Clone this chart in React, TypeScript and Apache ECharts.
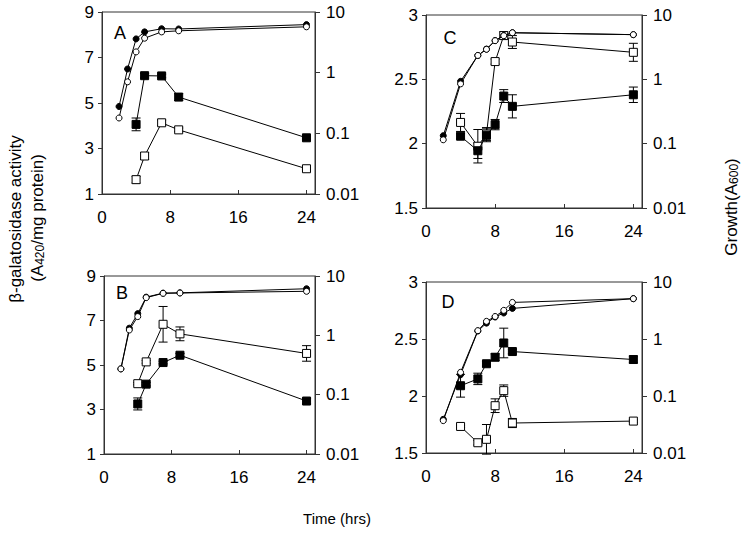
import React, { useEffect, useRef } from "react";
import * as echarts from "echarts";

// ---------- data ----------
const xTicks = [0, 8, 16, 24];

// Panel A
const A_tGrowth = [2, 3, 4, 5, 7, 9, 24];
const A_growthFilled = [0.277, 1.15, 3.6, 4.7, 5.3, 5.25, 6.2];
const A_growthOpen = [0.179, 0.706, 2.2, 3.7, 4.7, 4.9, 5.7];
const A_tAct = [4, 5, 7, 9, 24];
const A_actFilled = [4.06, 6.2, 6.19, 5.26, 3.47];
const A_errFilled = [0.28, 0.1, 0.08, 0.15, 0.06];
const A_actOpen = [1.63, 2.67, 4.13, 3.82, 2.11];
const A_errOpen = [0.15, 0.15, 0.12, 0.08, 0.04];

// Panel B
const B_tGrowth = [2, 3, 4, 5, 7, 9, 24];
const B_growthFilled = [0.272, 1.32, 2.32, 4.4, 5.15, 5.2, 6.1];
const B_growthOpen = [0.272, 1.23, 2.07, 4.32, 5.1, 5.17, 5.52];
const B_tAct = [4, 5, 7, 9, 24];
const B_actFilled = [3.25, 4.14, 5.11, 5.44, 3.38];
const B_errFilled = [0.27, 0.08, 0.06, 0.08, 0.12];
const B_actOpen = [4.16, 5.14, 6.83, 6.4, 5.52];
const B_errOpen = [0.05, 0.06, 0.8, 0.31, 0.35];

// Panel C
const C_tGrowth = [2, 4, 6, 7, 8, 9, 10, 24];
const C_growthFilled = [0.133, 0.93, 2.35, 2.95, 4.0, 4.8, 5.3, 4.95];
const C_growthOpen = [0.115, 0.85, 2.35, 2.93, 3.99, 4.77, 5.3, 4.95];
const C_tAct = [4, 6, 7, 8, 9, 10, 24];
const C_actFilled = [2.058, 1.945, 2.065, 2.148, 2.37, 2.29, 2.38];
const C_errFilled = [0.02, 0.06, 0.05, 0.04, 0.05, 0.09, 0.06];
const C_actOpen = [2.165, 1.98, 2.075, 2.638, 2.84, 2.79, 2.71];
const C_errOpen = [0.07, 0.13, 0.05, 0.02, 0.03, 0.05, 0.07];

// Panel D
const D_tGrowth = [2, 4, 6, 7, 8, 9, 10, 24];
const D_growthFilled = [0.039, 0.237, 1.38, 1.9, 2.43, 2.86, 3.44, 5.1];
const D_growthOpen = [0.037, 0.26, 1.4, 2.04, 2.48, 3.18, 4.38, 5.1];
const D_tAct = [4, 6, 7, 8, 9, 10, 24];
const D_actFilled = [2.09, 2.15, 2.283, 2.34, 2.465, 2.39, 2.32];
const D_errFilled = [0.1, 0.05, 0.02, 0.03, 0.13, 0.02, 0.03];
const D_actOpen = [1.733, 1.59, 1.62, 1.915, 2.047, 1.763, 1.78];
const D_errOpen = [0.01, 0.02, 0.13, 0.06, 0.05, 0.04, 0.01];

const leftTicksAB = [1, 3, 5, 7, 9];
const leftTicksCD = [1.5, 2, 2.5, 3];
const rightTicks = [0.01, 0.1, 1, 10];

const FONT = "'Liberation Sans', Arial, sans-serif";
const AX = "#333";

type Panel = {
  letter: string;
  grid: { left: number; top: number; width: number; height: number };
  leftMin: number; leftMax: number; leftInterval: number;
  tGrowth: number[]; gF: number[]; gO: number[];
  tAct: number[]; aF: number[]; eF: number[]; aO: number[]; eO: number[];
  letterPos: [number, number];
};

const panels: Panel[] = [
  { letter: "A", grid: { left: 102, top: 12, width: 213, height: 182 }, leftMin: leftTicksAB[0], leftMax: leftTicksAB[4], leftInterval: 2,
    tGrowth: A_tGrowth, gF: A_growthFilled, gO: A_growthOpen, tAct: A_tAct, aF: A_actFilled, eF: A_errFilled, aO: A_actOpen, eO: A_errOpen, letterPos: [120, 33] },
  { letter: "C", grid: { left: 426, top: 15, width: 216, height: 193 }, leftMin: leftTicksCD[0], leftMax: leftTicksCD[3], leftInterval: 0.5,
    tGrowth: C_tGrowth, gF: C_growthFilled, gO: C_growthOpen, tAct: C_tAct, aF: C_actFilled, eF: C_errFilled, aO: C_actOpen, eO: C_errOpen, letterPos: [450, 38] },
  { letter: "B", grid: { left: 104, top: 276, width: 211, height: 178 }, leftMin: leftTicksAB[0], leftMax: leftTicksAB[4], leftInterval: 2,
    tGrowth: B_tGrowth, gF: B_growthFilled, gO: B_growthOpen, tAct: B_tAct, aF: B_actFilled, eF: B_errFilled, aO: B_actOpen, eO: B_errOpen, letterPos: [122, 293] },
  { letter: "D", grid: { left: 426, top: 282, width: 216, height: 171 }, leftMin: leftTicksCD[0], leftMax: leftTicksCD[3], leftInterval: 0.5,
    tGrowth: D_tGrowth, gF: D_growthFilled, gO: D_growthOpen, tAct: D_tAct, aF: D_actFilled, eF: D_errFilled, aO: D_actOpen, eO: D_errOpen, letterPos: [448, 302] },
];

function fmtNum(v: number) {
  return String(Number(Number(v).toPrecision(3)));
}

function buildOption() {
  const grid: any[] = [];
  const xAxis: any[] = [];
  const yAxis: any[] = [];
  const series: any[] = [];
  const graphic: any[] = [];

  panels.forEach((p, i) => {
    grid.push({ ...p.grid, show: true, borderColor: AX, borderWidth: 1, backgroundColor: "transparent" });
    xAxis.push({
      type: "value", gridIndex: i, min: 0, max: 25, interval: 8,
      axisLine: { show: true, lineStyle: { color: AX } },
      axisTick: { show: true, inside: true, length: 4, lineStyle: { color: AX } },
      splitLine: { show: false },
      axisLabel: {
        margin: 15, color: "#000", fontSize: 17, fontFamily: FONT,
        formatter: (v: number) => (xTicks.includes(v) ? String(v) : ""),
      },
    });
    yAxis.push({
      type: "value", gridIndex: i, position: "left", min: p.leftMin, max: p.leftMax, interval: p.leftInterval,
      axisLine: { show: true, lineStyle: { color: AX } },
      axisTick: { show: true, length: 4, lineStyle: { color: AX } },
      splitLine: { show: false },
      axisLabel: { margin: 8, color: "#000", fontSize: 17, fontFamily: FONT, formatter: (v: number) => fmtNum(v) },
    });
    yAxis.push({
      type: "log", logBase: 10, gridIndex: i, position: "right", min: rightTicks[0], max: rightTicks[3],
      axisLine: { show: true, lineStyle: { color: AX } },
      axisTick: { show: true, length: 5, lineStyle: { color: AX } },
      minorTick: { show: false },
      splitLine: { show: false },
      axisLabel: { margin: 11, color: "#000", fontSize: 17, fontFamily: FONT, formatter: (v: number) => fmtNum(v) },
    });
    const yl = 2 * i;
    const yr = 2 * i + 1;

    const errData = (t: number[], a: number[], e: number[]) => t.map((x, k) => [x, a[k] - e[k], a[k] + e[k]]);
    const errSeries = (data: number[][]) => ({
      type: "custom", xAxisIndex: i, yAxisIndex: yl, silent: true, z: 2,
      encode: { x: 0, y: [1, 2] },
      data,
      renderItem: (_params: any, api: any) => {
        const x = api.value(0);
        const lo = api.coord([x, api.value(1)]);
        const hi = api.coord([x, api.value(2)]);
        const w = 4.5;
        const st = { stroke: "#000", lineWidth: 1 };
        return {
          type: "group",
          children: [
            { type: "line", shape: { x1: lo[0], y1: lo[1], x2: hi[0], y2: hi[1] }, style: st },
            { type: "line", shape: { x1: lo[0] - w, y1: lo[1], x2: lo[0] + w, y2: lo[1] }, style: st },
            { type: "line", shape: { x1: hi[0] - w, y1: hi[1], x2: hi[0] + w, y2: hi[1] }, style: st },
          ],
        };
      },
    });
    series.push(errSeries(errData(p.tAct, p.aO, p.eO)));
    series.push(errSeries(errData(p.tAct, p.aF, p.eF)));

    const lineSeries = (t: number[], v: number[], yIdx: number, symbol: string, size: number, filled: boolean, z: number) => ({
      type: "line", xAxisIndex: i, yAxisIndex: yIdx, z,
      data: t.map((x, k) => [x, v[k]]),
      symbol, symbolSize: size, showAllSymbol: true,
      lineStyle: { color: "#000", width: 1 },
      itemStyle: { color: filled ? "#000" : "#fff", borderColor: "#000", borderWidth: 1, opacity: 1 },
      emphasis: { disabled: true },
    });
    series.push(lineSeries(p.tAct, p.aO, yl, "rect", 8, false, 3));
    series.push(lineSeries(p.tAct, p.aF, yl, "rect", 8, true, 4));
    series.push(lineSeries(p.tGrowth, p.gF, yr, "circle", 6, true, 5));
    series.push(lineSeries(p.tGrowth, p.gO, yr, "circle", 6, false, 6));

    graphic.push({
      type: "text", x: p.letterPos[0], y: p.letterPos[1],
      style: { text: p.letter, fontSize: 18, fontFamily: FONT, fill: "#000", align: "center", verticalAlign: "middle" },
    });
  });

  graphic.push({
    type: "text", x: 15, y: 219, rotation: Math.PI / 2,
    style: { text: "β-galatosidase activity", fontSize: 17, fontFamily: FONT, fill: "#000", align: "center", verticalAlign: "middle" },
  });
  graphic.push({
    type: "text", x: 37, y: 218, rotation: Math.PI / 2,
    style: {
      text: "(A{s|420}/mg protein)", fontSize: 17, fontFamily: FONT, fill: "#000", align: "center", verticalAlign: "middle",
      rich: { s: { fontSize: 12, fontFamily: FONT, fill: "#000", padding: [5, 0, 0, 0] } },
    },
  });
  graphic.push({
    type: "text", x: 731, y: 207, rotation: Math.PI / 2,
    style: {
      text: "Growth(A{s|600})", fontSize: 17, fontFamily: FONT, fill: "#000", align: "center", verticalAlign: "middle",
      rich: { s: { fontSize: 12, fontFamily: FONT, fill: "#000", padding: [5, 0, 0, 0] } },
    },
  });
  graphic.push({
    type: "text", x: 337, y: 518,
    style: { text: "Time (hrs)", fontSize: 15, fontFamily: FONT, fill: "#000", align: "center", verticalAlign: "middle" },
  });

  return { animation: false, backgroundColor: "#fff", grid, xAxis, yAxis, series, graphic };
}

export default function App() {
  const ref = useRef<HTMLDivElement>(null);
  useEffect(() => {
    document.body.style.margin = "0";
    if (!ref.current) return;
    const chart = echarts.init(ref.current, undefined, { renderer: "svg" });
    chart.setOption(buildOption() as any);
    return () => chart.dispose();
  }, []);
  return <div ref={ref} style={{ width: 746, height: 533 }} />;
}
